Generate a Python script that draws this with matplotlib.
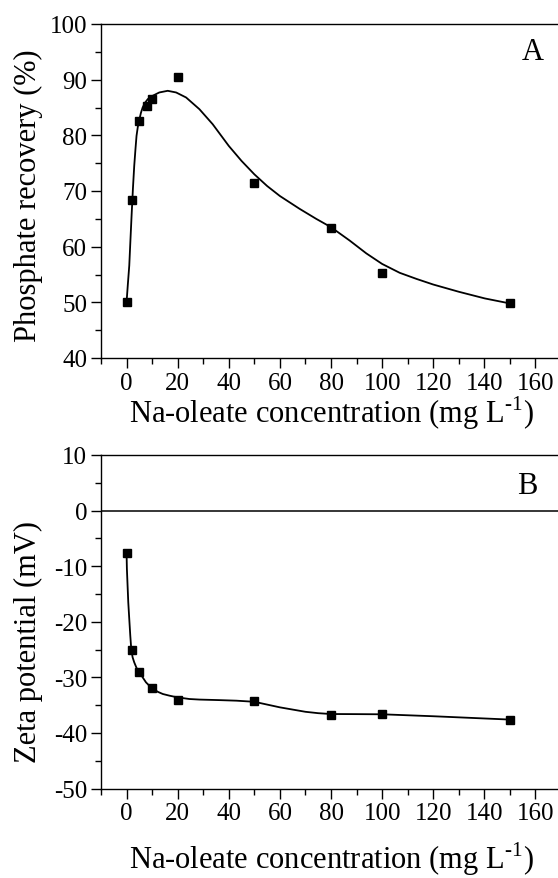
import matplotlib
matplotlib.use("Agg")
import matplotlib.pyplot as plt
from matplotlib.ticker import MultipleLocator

plt.rcParams['font.family'] = ['Liberation Serif', 'DejaVu Serif']
plt.rcParams['mathtext.fontset'] = 'custom'
plt.rcParams['mathtext.rm'] = 'Liberation Serif'
plt.rcParams['axes.unicode_minus'] = False

# ---- data ----
conc = [0, 2, 5, 8, 10, 20, 50, 80, 100, 150]
recovery = [50.0, 68.4, 82.6, 85.2, 86.5, 90.4, 71.4, 63.4, 55.3, 49.8]

conc_z = [0, 2, 5, 10, 20, 50, 80, 100, 150]
zeta = [-7.7, -25.0, -29.0, -31.9, -34.0, -34.3, -36.7, -36.6, -37.6]

# fitted curves as drawn
fitA_x = [0, 0.5, 1.06, 1.5, 1.97, 2.5, 3.0, 3.5, 3.9, 4.4, 5.0, 5.6, 6.3, 7.3, 8.3,
          10.2, 12.8, 16.1, 19.4, 23.3, 28.5, 33.7, 40.0, 45.0, 50.0, 55.0, 60.0,
          67.7, 74.2, 80.0, 87.3, 93.8, 100.0, 106.9, 113.5, 120.0, 130.0, 140.2, 150.0]
fitA_y = [50.0, 53.2, 56.6, 61.0, 65.6, 70.5, 74.5, 77.6, 79.9, 81.5, 82.8, 84.0, 85.0,
          85.9, 86.5, 87.1, 87.7, 88.0, 87.7, 86.8, 84.7, 82.0, 78.1, 75.4, 73.0,
          70.9, 69.1, 66.8, 65.0, 63.5, 61.1, 58.8, 56.9, 55.3, 54.2, 53.2, 51.9,
          50.7, 49.8]

fitB_x = [0, 0.13, 0.4, 0.67, 1.06, 1.46, 1.85, 2.37, 3.0, 3.9, 5.0, 6.3, 7.6, 8.9,
          10.2, 12.2, 14.2, 16.8, 19.9, 24.6, 28.5, 36.4, 43, 50, 55, 60, 65, 70, 75,
          80, 90, 100, 120, 150]
fitB_y = [-7.6, -10.45, -13.5, -16.5, -19.5, -22.5, -25.0, -26.4, -27.3, -28.3, -29.1,
          -30.0, -30.9, -31.5, -32.0, -32.6, -33.0, -33.3, -33.6, -33.9, -34.0, -34.1,
          -34.2, -34.4, -34.9, -35.4, -35.8, -36.2, -36.45, -36.6, -36.62, -36.65,
          -37.0, -37.6]

xlabel = 'Na-oleate concentration (mg L$^{\\text{-1}}$)'
xticks = [0, 20, 40, 60, 80, 100, 120, 140, 160]

W, H = 558, 879
fig = plt.figure(figsize=(W / 100, H / 100), dpi=100)

def box(l, t, r, b):
    return [l / W, 1 - b / H, (r - l) / W, (b - t) / H]

axA = fig.add_axes(box(101, 25, 561, 359))
axB = fig.add_axes(box(101, 456, 561, 789.5))

for ax in (axA, axB):
    ax.set_xlim(-10, 170)
    ax.set_xticks(xticks)
    ax.xaxis.set_minor_locator(MultipleLocator(10))
    ax.tick_params(which='major', direction='out', length=7, width=1,
                   labelsize=18, pad=3, top=False, right=False)
    ax.tick_params(which='minor', direction='out', length=4, width=1,
                   top=False, right=False)
    ax.spines['right'].set_visible(False)
    for s in ax.spines.values():
        s.set_linewidth(1)

# Panel A
axA.plot(fitA_x, fitA_y, color='black', lw=1.3, zorder=2, solid_joinstyle='round')
axA.plot(conc, recovery, 's', color='black', ms=5.5, zorder=3)
axA.set_ylim(40, 100)
axA.yaxis.set_major_locator(MultipleLocator(10))
axA.yaxis.set_minor_locator(MultipleLocator(5))
axA.set_xlabel(xlabel, fontsize=22, labelpad=0)
axA.text(159, 95, 'A', fontsize=22, ha='center', va='center')

# Panel B
axB.axhline(0, color='black', lw=1.1, zorder=1)
axB.plot(fitB_x, fitB_y, color='black', lw=1.3, zorder=2, solid_joinstyle='round')
axB.plot(conc_z, zeta, 's', color='black', ms=5.5, zorder=3)
axB.set_ylim(-50, 10)
axB.yaxis.set_major_locator(MultipleLocator(10))
axB.yaxis.set_minor_locator(MultipleLocator(5))
axB.set_xlabel(xlabel, fontsize=22, labelpad=11)
axB.text(156.7, 4.5, 'B', fontsize=22, ha='center', va='center')

fig.text(28 / W, 1 - 196 / H, 'Phosphate recovery (%)', fontsize=22,
         rotation=90, ha='center', va='center')
fig.text(28 / W, 1 - 642 / H, 'Zeta potential (mV)', fontsize=22,
         rotation=90, ha='center', va='center')

fig.savefig('out.png', dpi=100)
